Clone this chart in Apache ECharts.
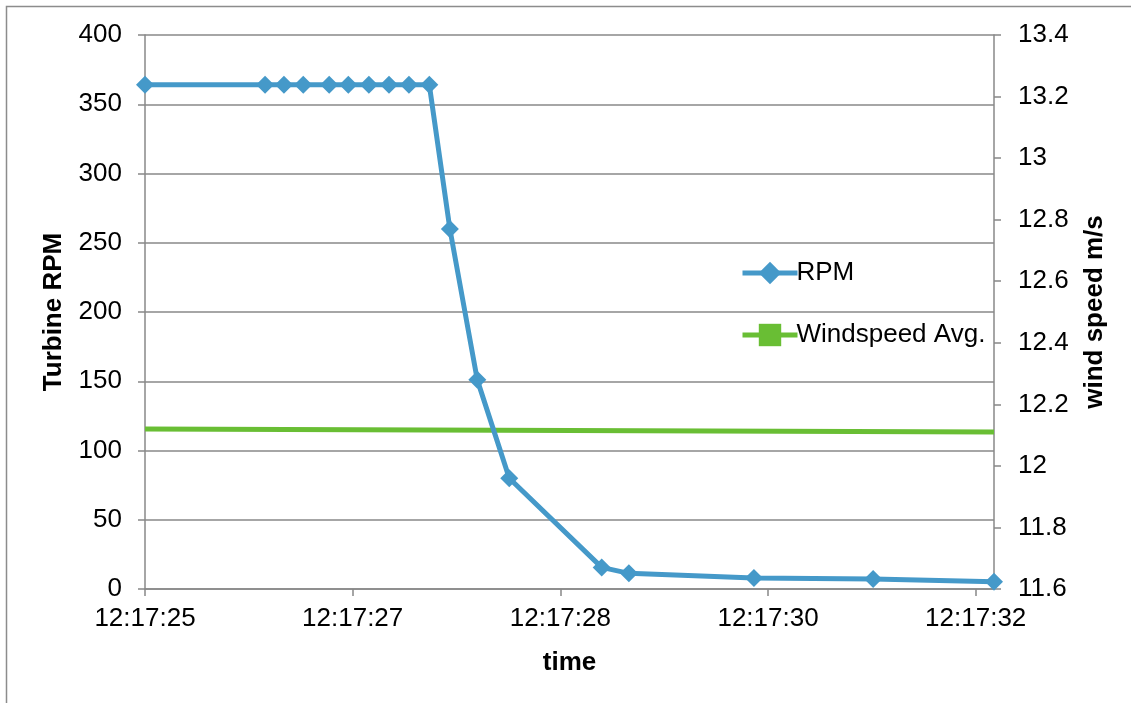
<!DOCTYPE html>
<html>
<head>
<meta charset="utf-8">
<script src="https://cdn.jsdelivr.net/npm/echarts@6/dist/echarts.min.js"></script>
<style>
html,body{margin:0;padding:0;background:#fff;}
#chart{width:1131px;height:703px;}
</style>
</head>
<body>
<div id="chart"></div>
<script>
// x positions in axis units (one unit = one labelled interval)
const timeLabels = ['12:17:25', '12:17:27', '12:17:28', '12:17:30', '12:17:32'];
const rpmX = [0, 0.578, 0.669, 0.762, 0.887, 0.979, 1.078, 1.175, 1.271, 1.369, 1.468, 1.600, 1.754, 2.199, 2.330, 2.932, 3.506, 4.088];
const rpmValues = [364, 364, 364, 364, 364, 364, 364, 364, 364, 364, 260, 151, 80, 15.6, 11.3, 8.0, 7.2, 5.3];
const windX = [0, 4.088];
const windValues = [12.12, 12.11];

const rpmData = rpmX.map((x, i) => [x, rpmValues[i]]);
const windData = windX.map((x, i) => [x, windValues[i]]);

const axisGray = '#888888';
const font = 'Liberation Sans, Arial, sans-serif';

const chart = echarts.init(document.getElementById('chart'), null, {renderer: 'canvas'});
chart.setOption({
  animation: false,
  backgroundColor: '#ffffff',
  graphic: [{
    type: 'rect',
    shape: {x: 6.5, y: 6.5, width: 1140, height: 720},
    style: {fill: 'none', stroke: '#8c8c8c', lineWidth: 1.5},
    silent: true
  }],
  grid: {left: 145, right: 137, top: 35, bottom: 114, containLabel: false},
  legend: {
    orient: 'vertical',
    left: 735,
    top: 254,
    itemWidth: 55,
    itemHeight: 28,
    itemGap: 34,
    lineStyle: {width: 5},
    textStyle: {fontFamily: font, fontSize: 26, color: '#000', lineHeight: 28, padding: [0, 0, 0, -6]},
    data: ['RPM', 'Windspeed Avg.']
  },
  xAxis: {
    type: 'value',
    min: 0,
    max: 4.088,
    interval: 1,
    name: 'time',
    nameLocation: 'middle',
    nameGap: 61,
    nameTextStyle: {fontFamily: font, fontSize: 26, fontWeight: 'bold', color: '#000'},
    axisLine: {show: true, lineStyle: {color: axisGray, width: 1.5}},
    axisTick: {show: true, length: 7, lineStyle: {color: axisGray, width: 1.5}},
    splitLine: {show: false},
    axisLabel: {
      showMaxLabel: false,
      margin: 17,
      fontFamily: font, fontSize: 26, color: '#000',
      formatter: v => {
        const i = Math.round(v);
        return Math.abs(v - i) < 1e-6 && timeLabels[i] ? timeLabels[i] : '';
      }
    }
  },
  yAxis: [{
    type: 'value',
    min: 0,
    max: 400,
    interval: 50,
    position: 'left',
    name: 'Turbine RPM',
    nameLocation: 'middle',
    nameGap: 78,
    nameRotate: 90,
    nameTextStyle: {fontFamily: font, fontSize: 26, fontWeight: 'bold', color: '#000'},
    axisLine: {show: true, lineStyle: {color: axisGray, width: 1.5}},
    axisTick: {show: true, length: 7, lineStyle: {color: axisGray, width: 1.5}},
    splitLine: {show: true, lineStyle: {color: axisGray, width: 1.5}},
    axisLabel: {margin: 23, fontFamily: font, fontSize: 26, color: '#000'}
  }, {
    type: 'value',
    min: 11.6,
    max: 13.4,
    interval: 0.2,
    position: 'right',
    name: 'wind speed m/s',
    nameLocation: 'middle',
    nameGap: 88,
    nameRotate: 90,
    nameTextStyle: {fontFamily: font, fontSize: 26, fontWeight: 'bold', color: '#000'},
    axisLine: {show: true, lineStyle: {color: axisGray, width: 1.5}},
    axisTick: {show: true, length: 7, lineStyle: {color: axisGray, width: 1.5}},
    splitLine: {show: false},
    axisLabel: {
      margin: 24, fontFamily: font, fontSize: 26, color: '#000',
      formatter: v => String(parseFloat(v.toFixed(1)))
    }
  }],
  series: [{
    name: 'RPM',
    type: 'line',
    yAxisIndex: 0,
    data: rpmData,
    symbol: 'diamond',
    symbolSize: 18,
    showSymbol: true,
    lineStyle: {color: '#4599C9', width: 5},
    itemStyle: {color: '#4599C9'},
    z: 3
  }, {
    name: 'Windspeed Avg.',
    type: 'line',
    yAxisIndex: 1,
    data: windData,
    symbol: 'rect',
    symbolSize: 14,
    showSymbol: false,
    lineStyle: {color: '#69BE34', width: 5},
    itemStyle: {color: '#69BE34'},
    z: 2
  }]
});
</script>
</body>
</html>
